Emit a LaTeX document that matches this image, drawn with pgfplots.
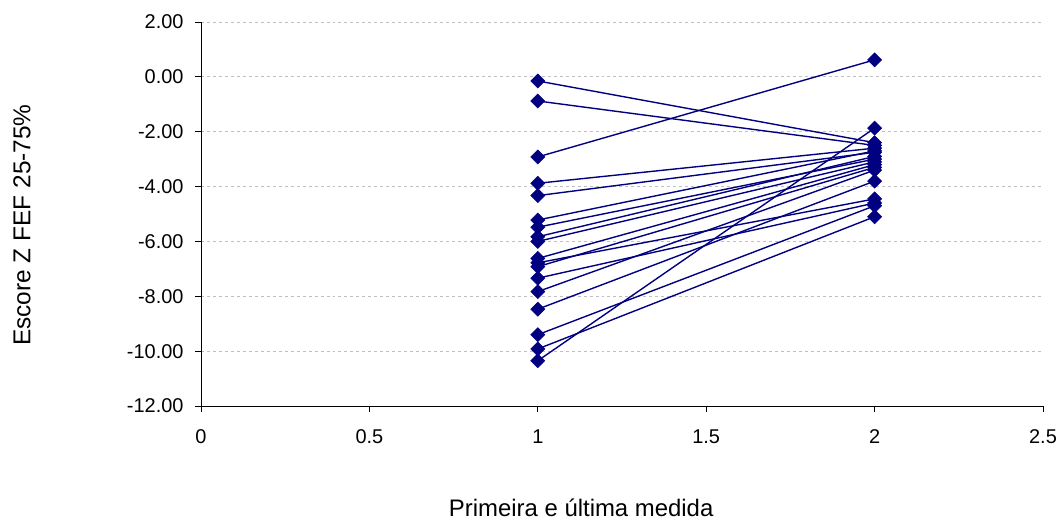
\documentclass[border=0pt]{standalone}
\usepackage{pgfplots}
\pgfplotsset{compat=1.18}
\usepackage{fontspec}
\setmainfont{Liberation Sans}
\definecolor{navyb}{HTML}{000080}
\definecolor{gridg}{HTML}{C0C0C0}
\pgfplotsset{pairline/.style={navyb, solid, line width=1.4pt, mark=square*, mark size=5bp, mark options={rotate=45, solid, fill=navyb, draw=navyb, line width=0.5pt}}}
\begin{document}
\begin{tikzpicture}
\path (0,0) rectangle (1061bp,521bp);
\begin{axis}[
  at={(201bp,115bp)}, anchor=south west,
  scale only axis, width=842bp, height=384bp,
  xmin=0, xmax=2.5, ymin=-12, ymax=2,
  xtick={0,0.5,1,1.5,2,2.5},
  ytick={-12,-10,-8,-6,-4,-2,0,2},
  axis x line*=bottom, axis y line*=left,
  axis line style={black, line width=0.8pt, -},
  tick align=outside, major tick length=6bp,
  tick style={black, line width=0.8pt},
  ymajorgrids, grid style={dashed, gridg, line width=0.8pt},
  /pgf/number format/assume math mode=true,
  ticklabel style={font=\fontsize{20}{24}\selectfont},
  y tick label style={/pgf/number format/.cd, fixed, fixed zerofill, precision=2, /tikz/.cd, xshift=-8bp},
  x tick label style={/pgf/number format/.cd, fixed, /tikz/.cd, yshift=-14bp},
  xlabel={Primeira e última medida},
  ylabel={Escore Z FEF 25-75\%},
  xlabel style={at={(axis description cs:0.4515,-0.266)}, anchor=center, font=\fontsize{24}{28}\selectfont},
  ylabel style={at={(axis description cs:-0.2126,0.471)}, anchor=center, font=\fontsize{24.5}{28}\selectfont},
  clip=false,
]
\addplot[pairline] coordinates {(1,-0.15) (2,-2.40)};
\addplot[pairline] coordinates {(1,-0.88) (2,-2.50)};
\addplot[pairline] coordinates {(1,-2.92) (2,0.62)};
\addplot[pairline] coordinates {(1,-3.88) (2,-2.60)};
\addplot[pairline] coordinates {(1,-4.33) (2,-2.75)};
\addplot[pairline] coordinates {(1,-5.22) (2,-2.70)};
\addplot[pairline] coordinates {(1,-5.48) (2,-3.00)};
\addplot[pairline] coordinates {(1,-5.83) (2,-2.90)};
\addplot[pairline] coordinates {(1,-6.00) (2,-3.10)};
\addplot[pairline] coordinates {(1,-6.62) (2,-3.20)};
\addplot[pairline] coordinates {(1,-6.78) (2,-4.45)};
\addplot[pairline] coordinates {(1,-6.92) (2,-3.30)};
\addplot[pairline] coordinates {(1,-7.34) (2,-4.60)};
\addplot[pairline] coordinates {(1,-7.83) (2,-3.40)};
\addplot[pairline] coordinates {(1,-8.47) (2,-3.80)};
\addplot[pairline] coordinates {(1,-9.40) (2,-4.70)};
\addplot[pairline] coordinates {(1,-9.92) (2,-5.10)};
\addplot[pairline] coordinates {(1,-10.35) (2,-1.87)};
\end{axis}
\end{tikzpicture}
\end{document}
